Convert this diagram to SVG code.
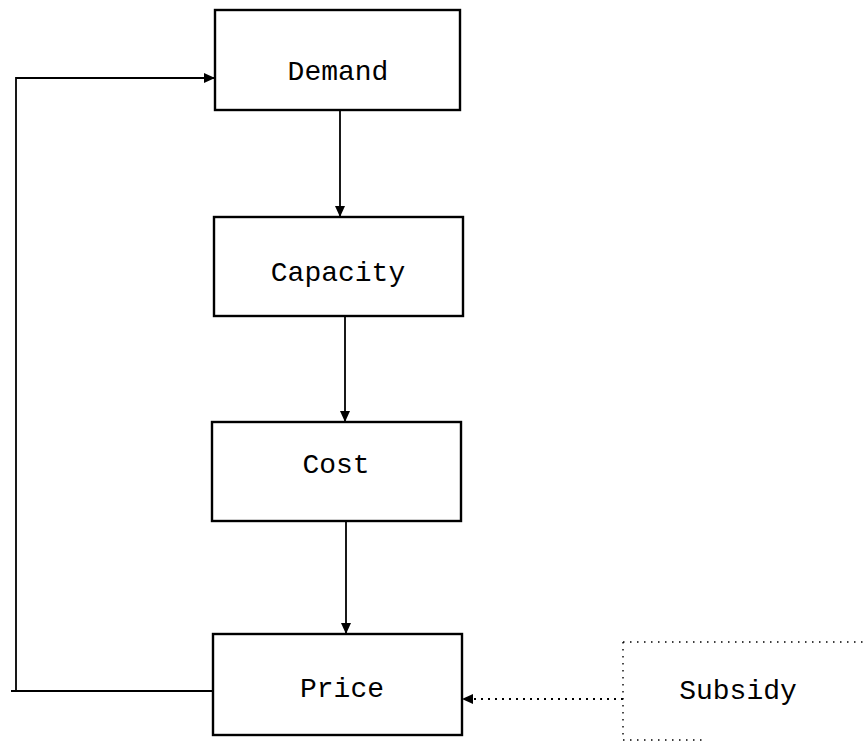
<svg xmlns="http://www.w3.org/2000/svg" width="866" height="742" viewBox="0 0 866 742">
<style>
.box{fill:#fff;stroke:#000;stroke-width:2.4}
.lbl{font-family:"Liberation Mono","Courier New",monospace;font-size:28px;fill:#000;text-anchor:middle}
.con{fill:none;stroke:#000;stroke-width:1.8}
.dot{fill:none;stroke:#000;stroke-width:2;stroke-dasharray:2 5}
.dotb{fill:none;stroke:#000;stroke-width:1.4;stroke-dasharray:1.5 5.5}
</style>
<defs>
<marker id="ah" markerWidth="11" markerHeight="10" refX="11" refY="5" orient="auto" markerUnits="userSpaceOnUse">
<path d="M0,0 L11,5 L0,10 Z" fill="#000"/>
</marker>
</defs>
<rect width="866" height="742" fill="#fff"/>
<g id="connectors">
<line class="con" x1="340" y1="110" x2="340" y2="217" marker-end="url(#ah)"/>
<line class="con" x1="345" y1="316" x2="345" y2="422" marker-end="url(#ah)"/>
<line class="con" x1="346" y1="521" x2="346" y2="634" marker-end="url(#ah)"/>
<polyline class="con" points="213,691 11,691"/>
<polyline class="con" points="16,691 16,78 215,78" marker-end="url(#ah)"/>
<line class="dot" x1="623" y1="699" x2="462" y2="699" marker-end="url(#ah)"/>
</g>
<g id="demand">
<rect class="box" x="215" y="10" width="245" height="100"/>
<text class="lbl" x="338" y="80">Demand</text>
</g>
<g id="capacity">
<rect class="box" x="214" y="217" width="249" height="99"/>
<text class="lbl" x="338" y="281">Capacity</text>
</g>
<g id="cost">
<rect class="box" x="212" y="422" width="249" height="99"/>
<text class="lbl" x="336" y="473">Cost</text>
</g>
<g id="price">
<rect class="box" x="213" y="634" width="249" height="101"/>
<text class="lbl" x="342" y="697">Price</text>
</g>
<g id="subsidy">
<path class="dotb" d="M623,642 L866,642 M623,642 L623,740 L705,740"/>
<text class="lbl" x="738" y="699">Subsidy</text>
</g>
</svg>
